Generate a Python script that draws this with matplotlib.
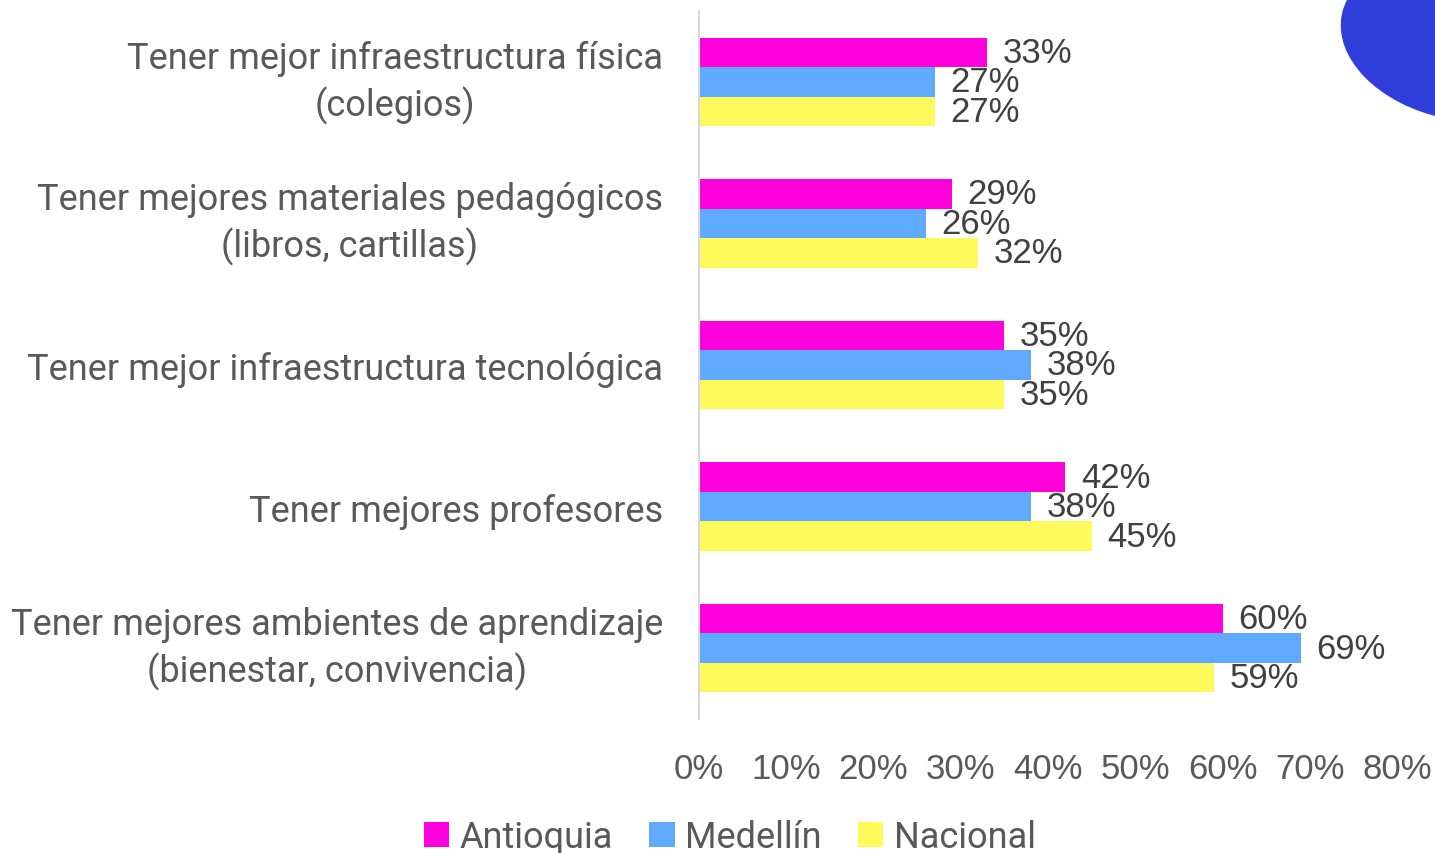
import numpy as np
import matplotlib.pyplot as plt
from matplotlib.patches import Ellipse

categories = ["Tener mejor infraestructura física\n(colegios)",
              "Tener mejores materiales pedagógicos\n(libros, cartillas)",
              "Tener mejor infraestructura tecnológica",
              "Tener mejores profesores",
              "Tener mejores ambientes de aprendizaje\n(bienestar, convivencia)"]
antioquia = [33, 29, 35, 42, 60]
medellin = [27, 26, 38, 38, 69]
nacional = [27, 32, 35, 45, 59]
series = ["Antioquia", "Medellín", "Nacional"]
colors = ["#FF00DC", "#5FAAFF", "#FFFA5C"]
xticks = [0, 10, 20, 30, 40, 50, 60, 70, 80]

fig = plt.figure(figsize=(14.35, 8.54), dpi=100)
ax = fig.add_axes([699/1435, 1-720/854, (1397-699)/1435, (720-12)/854])

# blue decoration top right
fig.patches.append(Ellipse((14.60, 8.14), 2.4, 1.6, angle=-12,
                           transform=fig.dpi_scale_trans, color="#2F3EDB", zorder=0))

y = np.arange(len(categories))
h = 0.208
vals = [antioquia, medellin, nacional]
for k, (name, v, c) in enumerate(zip(series, vals, colors)):
    pos = y + (k - 1) * h
    ax.barh(pos, v, height=h, color=c, label=name)
    for p, val in zip(pos, v):
        ax.text(val + 1.8, p, f"{val}%", va="center", ha="left",
                fontsize=25, color="#404040", family="Liberation Sans")

ax.set_ylim(len(categories) - 0.5, -0.5)
ax.set_xlim(0, 80)
ax.set_xticks(xticks)
ax.set_xticklabels([f"{t}%" for t in xticks], family="Liberation Sans",
                   fontsize=25, color="#595959")
ax.set_yticks(y)
ax.set_yticklabels(categories, family="Roboto", fontsize=26, color="#595959")
for lab in ax.get_yticklabels():
    lab.set_multialignment("center")
    lab.set_linespacing(1.32)
    if "\n" in lab.get_text():
        lab.set_va("center")
ax.tick_params(axis="both", length=0)
ax.tick_params(axis="x", pad=24)
ax.tick_params(axis="y", pad=26)
for s in ["top", "right", "bottom"]:
    ax.spines[s].set_visible(False)
ax.spines["left"].set_color("#D9D9D9")
ax.spines["left"].set_linewidth(1.5)

fig.legend(loc="center", bbox_to_anchor=(730/1435, 1-838/854), ncol=3, frameon=False,
           prop={"family": "Roboto", "size": 26}, labelcolor="#595959",
           handlelength=0.7, handleheight=0.7, handletextpad=0.3, columnspacing=1.0)

fig.savefig("out.png", dpi=100)
